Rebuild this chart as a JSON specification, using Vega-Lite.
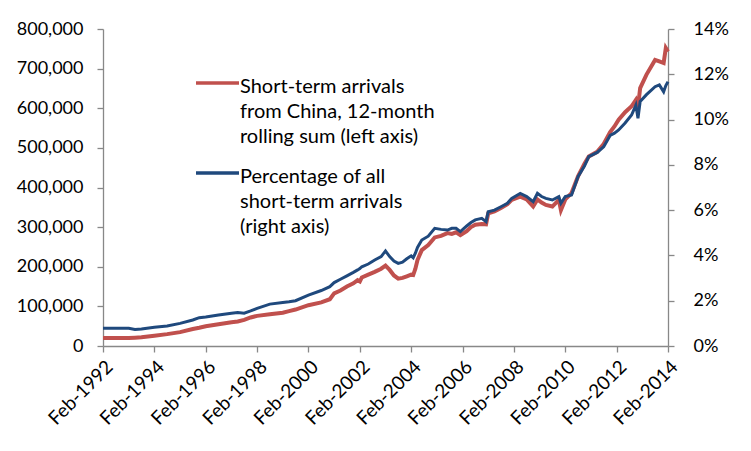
{
  "$schema": "https://vega.github.io/schema/vega-lite/v6.json",
  "width": 565,
  "height": 317,
  "autosize": {"type": "none"},
  "padding": {"left": 103, "top": 29, "right": 83, "bottom": 105},
  "background": "white",
  "config": {
    "view": {"stroke": null},
    "font": "Lato",
    "style": {"guide-label": {"lineHeight": 25}},
    "axis": {
      "labelFont": "Lato",
      "labelFontSize": 18,
      "labelColor": "#000000",
      "domainColor": "#888888",
      "tickColor": "#888888",
      "domainWidth": 1.3,
      "tickWidth": 1.3,
      "tickSize": 6,
      "grid": false,
      "title": null,
      "labelOverlap": false
    },
    "legend": {
      "labelFont": "Lato",
      "labelFontSize": 20,
      "labelColor": "#000000"
    }
  },
  "data": {
    "values": [
      {"date": "1992-02-01", "arrivals": 20000, "pct": 0.78},
      {"date": "1992-08-01", "arrivals": 20000, "pct": 0.78},
      {"date": "1993-02-01", "arrivals": 20000, "pct": 0.78},
      {"date": "1993-05-01", "arrivals": 21000, "pct": 0.73},
      {"date": "1993-08-01", "arrivals": 22000, "pct": 0.75},
      {"date": "1994-02-01", "arrivals": 26000, "pct": 0.83},
      {"date": "1994-08-01", "arrivals": 30000, "pct": 0.88},
      {"date": "1995-02-01", "arrivals": 35000, "pct": 1.0},
      {"date": "1995-08-01", "arrivals": 43000, "pct": 1.15},
      {"date": "1995-11-01", "arrivals": 46000, "pct": 1.25},
      {"date": "1996-02-01", "arrivals": 50000, "pct": 1.28},
      {"date": "1996-08-01", "arrivals": 55000, "pct": 1.37},
      {"date": "1997-02-01", "arrivals": 60000, "pct": 1.45},
      {"date": "1997-05-01", "arrivals": 62000, "pct": 1.48},
      {"date": "1997-08-01", "arrivals": 66000, "pct": 1.45},
      {"date": "1997-11-01", "arrivals": 72000, "pct": 1.55},
      {"date": "1998-02-01", "arrivals": 76000, "pct": 1.66},
      {"date": "1998-08-01", "arrivals": 80000, "pct": 1.85},
      {"date": "1999-02-01", "arrivals": 84000, "pct": 1.92},
      {"date": "1999-05-01", "arrivals": 88000, "pct": 1.95},
      {"date": "1999-08-01", "arrivals": 92000, "pct": 2.0},
      {"date": "2000-02-01", "arrivals": 103000, "pct": 2.25},
      {"date": "2000-08-01", "arrivals": 110000, "pct": 2.45},
      {"date": "2000-12-01", "arrivals": 118000, "pct": 2.62},
      {"date": "2001-02-01", "arrivals": 133000, "pct": 2.8},
      {"date": "2001-05-01", "arrivals": 140000, "pct": 2.95},
      {"date": "2001-08-01", "arrivals": 150000, "pct": 3.1},
      {"date": "2001-11-01", "arrivals": 158000, "pct": 3.25},
      {"date": "2002-01-01", "arrivals": 166000, "pct": 3.36},
      {"date": "2002-02-01", "arrivals": 163000, "pct": 3.42},
      {"date": "2002-03-01", "arrivals": 173000, "pct": 3.5},
      {"date": "2002-06-01", "arrivals": 180000, "pct": 3.62},
      {"date": "2002-09-01", "arrivals": 187000, "pct": 3.8},
      {"date": "2002-12-01", "arrivals": 195000, "pct": 3.95},
      {"date": "2003-02-01", "arrivals": 203000, "pct": 4.2},
      {"date": "2003-04-01", "arrivals": 192000, "pct": 3.95},
      {"date": "2003-06-01", "arrivals": 178000, "pct": 3.75},
      {"date": "2003-08-01", "arrivals": 170000, "pct": 3.65},
      {"date": "2003-10-01", "arrivals": 172000, "pct": 3.7},
      {"date": "2003-12-01", "arrivals": 176000, "pct": 3.85},
      {"date": "2004-02-01", "arrivals": 180000, "pct": 3.98},
      {"date": "2004-03-01", "arrivals": 179000, "pct": 3.9},
      {"date": "2004-04-01", "arrivals": 195000, "pct": 4.1},
      {"date": "2004-05-01", "arrivals": 217000, "pct": 4.35},
      {"date": "2004-07-01", "arrivals": 242000, "pct": 4.68},
      {"date": "2004-10-01", "arrivals": 255000, "pct": 4.85},
      {"date": "2005-01-01", "arrivals": 274000, "pct": 5.2},
      {"date": "2005-04-01", "arrivals": 278000, "pct": 5.15},
      {"date": "2005-07-01", "arrivals": 285000, "pct": 5.12},
      {"date": "2005-09-01", "arrivals": 283000, "pct": 5.2},
      {"date": "2005-11-01", "arrivals": 287000, "pct": 5.2},
      {"date": "2006-01-01", "arrivals": 280000, "pct": 5.05},
      {"date": "2006-04-01", "arrivals": 290000, "pct": 5.3},
      {"date": "2006-06-01", "arrivals": 300000, "pct": 5.45},
      {"date": "2006-08-01", "arrivals": 306000, "pct": 5.57},
      {"date": "2006-11-01", "arrivals": 308000, "pct": 5.64},
      {"date": "2007-01-01", "arrivals": 307000, "pct": 5.49},
      {"date": "2007-02-01", "arrivals": 335000, "pct": 5.93},
      {"date": "2007-05-01", "arrivals": 340000, "pct": 6.0},
      {"date": "2007-08-01", "arrivals": 348000, "pct": 6.15},
      {"date": "2007-11-01", "arrivals": 358000, "pct": 6.3},
      {"date": "2008-01-01", "arrivals": 369000, "pct": 6.52},
      {"date": "2008-05-01", "arrivals": 377000, "pct": 6.74},
      {"date": "2008-08-01", "arrivals": 370000, "pct": 6.6},
      {"date": "2008-11-01", "arrivals": 352000, "pct": 6.37},
      {"date": "2009-01-01", "arrivals": 370000, "pct": 6.74},
      {"date": "2009-03-01", "arrivals": 362000, "pct": 6.6},
      {"date": "2009-05-01", "arrivals": 356000, "pct": 6.52},
      {"date": "2009-08-01", "arrivals": 352000, "pct": 6.45},
      {"date": "2009-11-01", "arrivals": 369000, "pct": 6.6},
      {"date": "2009-12-01", "arrivals": 343000, "pct": 6.3},
      {"date": "2010-02-01", "arrivals": 370000, "pct": 6.6},
      {"date": "2010-05-01", "arrivals": 386000, "pct": 6.67},
      {"date": "2010-08-01", "arrivals": 428000, "pct": 7.48},
      {"date": "2010-11-01", "arrivals": 460000, "pct": 7.95},
      {"date": "2011-01-01", "arrivals": 478000, "pct": 8.36},
      {"date": "2011-05-01", "arrivals": 490000, "pct": 8.55},
      {"date": "2011-08-01", "arrivals": 510000, "pct": 8.8},
      {"date": "2011-11-01", "arrivals": 540000, "pct": 9.3},
      {"date": "2012-01-01", "arrivals": 554000, "pct": 9.4},
      {"date": "2012-03-01", "arrivals": 571000, "pct": 9.54},
      {"date": "2012-06-01", "arrivals": 590000, "pct": 9.85},
      {"date": "2012-09-01", "arrivals": 605000, "pct": 10.2},
      {"date": "2012-11-01", "arrivals": 621000, "pct": 10.64},
      {"date": "2012-12-01", "arrivals": 603000, "pct": 10.06},
      {"date": "2013-01-01", "arrivals": 651000, "pct": 10.8},
      {"date": "2013-04-01", "arrivals": 685000, "pct": 11.1},
      {"date": "2013-08-01", "arrivals": 722000, "pct": 11.45},
      {"date": "2013-10-01", "arrivals": 718000, "pct": 11.53},
      {"date": "2013-12-01", "arrivals": 714000, "pct": 11.23},
      {"date": "2014-01-01", "arrivals": 752000, "pct": 11.5},
      {"date": "2014-02-01", "arrivals": 743000, "pct": 11.67}
    ]
  },
  "encoding": {
    "x": {
      "field": "date",
      "type": "temporal",
      "scale": {
        "type": "utc",
        "domain": [
          {"year": 1992, "month": 2, "date": 1, "utc": true},
          {"year": 2014, "month": 2, "date": 1, "utc": true}
        ]
      },
      "axis": {
        "format": "%b-%Y",
        "labelAngle": -45,
        "labelFontSize": 19,
        "labelPadding": 5,
        "values": [
          {"year": 1992, "month": 2, "date": 1, "utc": true},
          {"year": 1994, "month": 2, "date": 1, "utc": true},
          {"year": 1996, "month": 2, "date": 1, "utc": true},
          {"year": 1998, "month": 2, "date": 1, "utc": true},
          {"year": 2000, "month": 2, "date": 1, "utc": true},
          {"year": 2002, "month": 2, "date": 1, "utc": true},
          {"year": 2004, "month": 2, "date": 1, "utc": true},
          {"year": 2006, "month": 2, "date": 1, "utc": true},
          {"year": 2008, "month": 2, "date": 1, "utc": true},
          {"year": 2010, "month": 2, "date": 1, "utc": true},
          {"year": 2012, "month": 2, "date": 1, "utc": true},
          {"year": 2014, "month": 2, "date": 1, "utc": true}
        ]
      }
    }
  },
  "layer": [
    {
      "mark": {"type": "line", "strokeWidth": 4, "interpolate": "linear"},
      "encoding": {
        "y": {
          "field": "arrivals",
          "type": "quantitative",
          "scale": {"domain": [0, 800000], "nice": false},
          "axis": {"orient": "left", "format": ",.0f", "values": [0, 100000, 200000, 300000, 400000, 500000, 600000, 700000, 800000], "labelPadding": 14}
        },
        "color": {
          "datum": "Short-term arrivals|from China, 12-month|rolling sum (left axis)",
          "type": "nominal",
          "scale": {
            "domain": ["Short-term arrivals|from China, 12-month|rolling sum (left axis)", "Percentage of all|short-term arrivals|(right axis)"],
            "range": ["#C0504D", "#1F497D"]
          },
          "legend": {
            "orient": "none",
            "legendX": 91,
            "legendY": 40,
            "title": null,
            "symbolType": "M -1 -0.44 L 1 -0.44",
            "symbolSize": 1849,
            "symbolStrokeWidth": 3.5,
            "labelOffset": -1,
            "labelLimit": 400,
            "labelExpr": "split(datum.label, '|')",
            "labelBaseline": "alphabetic",
            "rowPadding": 12,
            "padding": 0
          }
        }
      }
    },
    {
      "mark": {"type": "line", "strokeWidth": 3, "interpolate": "linear"},
      "encoding": {
        "y": {
          "field": "pct",
          "type": "quantitative",
          "scale": {"domain": [0, 14], "nice": false},
          "axis": {"orient": "right", "values": [0, 2, 4, 6, 8, 10, 12, 14], "labelExpr": "datum.value + '%'", "labelPadding": 19}
        },
        "color": {
          "datum": "Percentage of all|short-term arrivals|(right axis)",
          "type": "nominal"
        }
      }
    }
  ],
  "resolve": {"scale": {"y": "independent"}}
}
